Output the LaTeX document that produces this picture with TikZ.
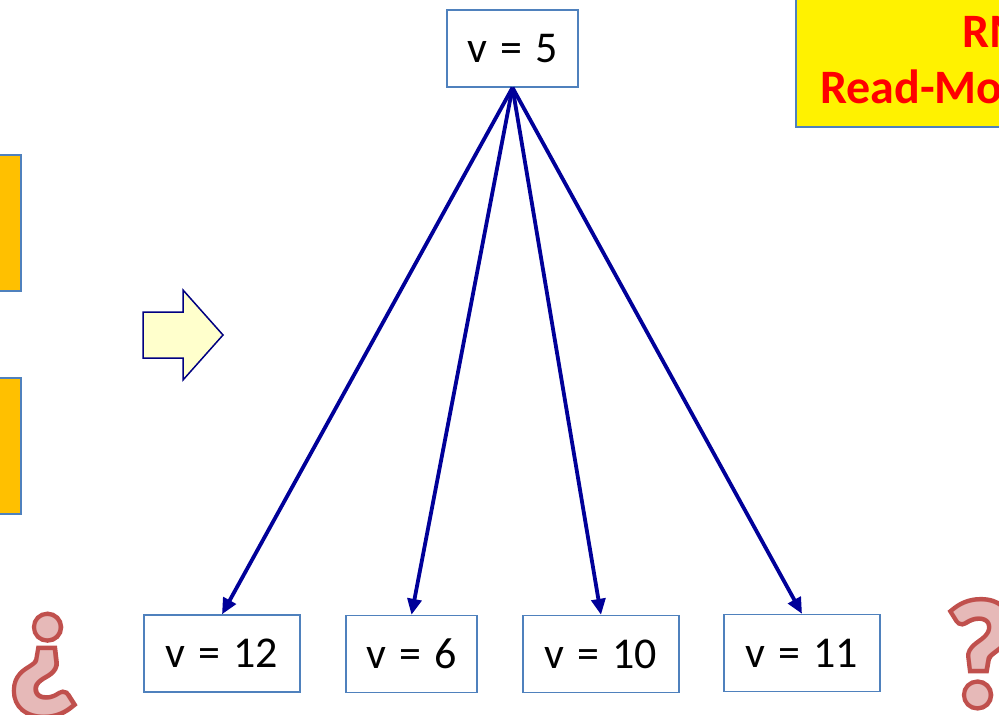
\documentclass[tikz,border=0pt]{standalone}
\usepackage{fontspec}
\setmainfont{Carlito}
\newfontfamily\qstroke[FakeBold=6]{Carlito Bold}
\newfontfamily\qplain{Carlito Bold}
\usetikzlibrary{arrows.meta}
\newcommand\vboxfont{\fontsize{44}{52}\selectfont\spaceskip 13pt plus 0pt\relax}
\definecolor{boxblue}{HTML}{4F81BD}
\definecolor{arrblue}{HTML}{000099}
\definecolor{orangebox}{HTML}{FFC000}
\definecolor{lightyel}{HTML}{FFFFCC}
\definecolor{navy}{HTML}{000080}
\definecolor{qfill}{HTML}{E6B9B8}
\definecolor{qline}{HTML}{C0504D}
\tikzset{
  vbox/.style={draw=boxblue, line width=1.3pt, fill=white, inner sep=0pt,
    minimum height=77pt, font=\vboxfont},
  conn/.style={draw=arrblue, line width=3.8pt, -{Triangle[length=16pt,width=14pt]}},
  redtxt/.style={text=red, font=\fontsize{48}{56}\selectfont\bfseries, inner sep=0pt, anchor=base west},
  qmarkline/.style={inner sep=0pt, anchor=base west, text=qline, font=\fontsize{150}{160}\qstroke\selectfont},
  qmarkfill/.style={inner sep=0pt, anchor=base west, text=qfill, font=\fontsize{150}{160}\qplain\selectfont}
}
\begin{document}
\begin{tikzpicture}[x=1pt,y=-1pt]
\clip (0,0) rectangle (999,715);
\fill[white] (0,0) rectangle (999,715);
% orange boxes
\draw[fill=orangebox, draw=boxblue, line width=1.3pt] (-10,155) rectangle (21,291);
\draw[fill=orangebox, draw=boxblue, line width=1.3pt] (-10,378) rectangle (21,514);
% yellow box
\draw[fill=yellow, draw=boxblue, line width=1.5pt] (796,-10) rectangle (1020,127);
\node[redtxt] (rm) at (962,47) {RM};
\node[redtxt] (rmo) at (820,103) {Read-Mo};
% block arrow
\draw[fill=lightyel, draw=navy, line width=1.5pt, line join=miter]
  (143,312) -- (183,312) -- (183,290) -- (223,335) -- (183,380) -- (183,358) -- (143,358) -- cycle;
% nodes
\node[vbox, minimum width=131pt] (top) at (512.5,48.5) {v = 5};
\node[vbox, minimum width=156pt] (b12) at (222,653.5) {v = 12};
\node[vbox, minimum width=131pt] (b6) at (411.5,654) {v = 6};
\node[vbox, minimum width=156pt] (b10) at (601,654) {v = 10};
\node[vbox, minimum width=156pt] (b11) at (802,653) {v = 11};
% connectors
\draw[conn] (top.south) -- (b12.north);
\draw[conn] (top.south) -- (b6.north);
\draw[conn] (top.south) -- (b10.north);
\draw[conn] (top.south) -- (b11.north);
% question marks
\node[qmarkline] (qinvl) at (8,690) {¿};
\node[qmarkfill] (qinv) at (8,690) {¿};
\node[qmarkline] (ql) at (946,705) {?};
\node[qmarkfill] (q) at (946,705) {?};
\end{tikzpicture}
\end{document}
